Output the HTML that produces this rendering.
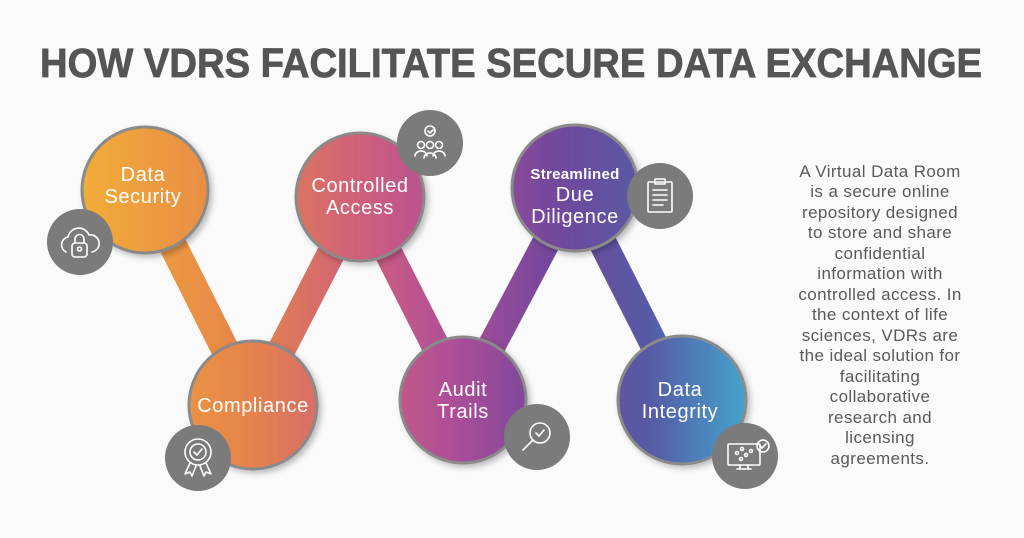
<!DOCTYPE html>
<html><head><meta charset="utf-8"><style>
html,body{margin:0;padding:0;background:#fafafa;}
svg{display:block;font-family:"Liberation Sans",sans-serif;}
</style></head><body>
<svg width="1024" height="538" viewBox="0 0 1024 538" xmlns="http://www.w3.org/2000/svg">
<defs>
<linearGradient id="g" gradientUnits="userSpaceOnUse" x1="80" y1="0" x2="750" y2="0">
<stop offset="0" stop-color="#f2ad38"/>
<stop offset="0.25" stop-color="#e5844a"/>
<stop offset="0.42" stop-color="#cf5f7c"/>
<stop offset="0.55" stop-color="#b04f97"/>
<stop offset="0.7" stop-color="#74479c"/>
<stop offset="0.85" stop-color="#565aa5"/>
<stop offset="1" stop-color="#45a6cf"/>
</linearGradient>
<filter id="sh" x="-20%" y="-20%" width="140%" height="140%"><feDropShadow dx="3" dy="3" stdDeviation="3" flood-color="#000" flood-opacity="0.25"/></filter>
</defs>
<rect width="1024" height="538" fill="#fafafa"/>
<text x="511" y="77" text-anchor="middle" font-size="41" font-weight="bold" fill="#555" stroke="#555" stroke-width="0.8" textLength="942" lengthAdjust="spacingAndGlyphs">HOW VDRS FACILITATE SECURE DATA EXCHANGE</text>
<g stroke="url(#g)" stroke-width="28" stroke-linecap="round" fill="none">
<polyline points="145,190 253,405 360,197 463,400 575,188 682,400" stroke-linejoin="round"/>
</g>
<g fill="url(#g)" stroke="#8a8a8a" stroke-width="3" filter="url(#sh)">
<circle cx="145" cy="190" r="63"/>
<circle cx="360" cy="197" r="64"/>
<circle cx="575" cy="188" r="63"/>
<circle cx="253" cy="405" r="64"/>
<circle cx="463" cy="400" r="63"/>
<circle cx="682" cy="400" r="64"/>
</g>
<g fill="#fff" font-size="20" letter-spacing="0.6" text-anchor="middle">
<text x="143" y="181">Data</text><text x="143" y="203">Security</text>
<text x="360" y="192">Controlled</text><text x="360" y="214">Access</text>
<text x="575" y="179" font-size="15" font-weight="bold" letter-spacing="0.3">Streamlined</text><text x="575" y="201">Due</text><text x="575" y="223">Diligence</text>
<text x="253" y="412">Compliance</text>
<text x="463" y="396">Audit</text><text x="463" y="418">Trails</text>
<text x="680" y="396">Data</text><text x="680" y="418">Integrity</text>
</g>
<g fill="#7b7b7b">
<circle cx="80" cy="242" r="33"/><circle cx="198" cy="458" r="33"/>
<circle cx="430" cy="143" r="33"/><circle cx="660" cy="196" r="33"/>
<circle cx="537" cy="437" r="33"/><circle cx="745" cy="456" r="33"/>
</g>
<g fill="none" stroke="#fff" stroke-width="1.6" stroke-linecap="round" stroke-linejoin="round">
<path d="M66 252 a8 8 0 0 1 2-15 a11 11 0 0 1 21-2 a8 8 0 0 1 3 17"/>
<rect x="72" y="243" width="15" height="14" rx="3"/><path d="M75 243 v-4 a4.5 4.5 0 0 1 9 0 v4"/><circle cx="79.5" cy="249" r="2"/>
<circle cx="198" cy="452" r="13"/><circle cx="198" cy="452" r="8"/><path d="M194 452 l3 3 l5-6"/><path d="M190 463 l-5 11 l5-2 l2 4 l4-10 M206 463 l5 11 l-5-2 l-2 4 l-4-10"/>
<circle cx="430" cy="131" r="5"/><path d="M428 131 l2 2 l3-3"/>
<circle cx="421" cy="145" r="3.5"/><circle cx="430" cy="145" r="3.5"/><circle cx="439" cy="145" r="3.5"/>
<path d="M415 156 a6 5 0 0 1 12 0 M424 158 a6 5 0 0 1 12 0 M433 156 a6 5 0 0 1 12 0"/>
<rect x="648" y="182" width="24" height="30" rx="1"/><rect x="655" y="179" width="10" height="5"/>
<path d="M653 190 h14 M653 195 h14 M653 200 h14 M653 205 h10"/>
<circle cx="540" cy="433" r="10"/><path d="M536 433 l3 3 l5-6 M533 440 l-10 10"/>
<rect x="728" y="444" width="32" height="21" rx="1"/><path d="M740 465 v4 h8 v-4 M737 469 h14"/>
<circle cx="763" cy="446" r="6"/><path d="M760 446 l2 2 l4-4"/>
<circle cx="737" cy="453" r="1.5"/><circle cx="742" cy="449" r="1.5"/><circle cx="746" cy="455" r="1.5"/><circle cx="741" cy="459" r="1.5"/><circle cx="751" cy="451" r="1.5"/>
</g>
<g fill="#5a5a5a" font-size="17" letter-spacing="0.4" text-anchor="middle">
<text x="880" y="177">A Virtual Data Room</text>
<text x="880" y="197">is a secure online</text>
<text x="880" y="218">repository designed</text>
<text x="880" y="238">to store and share</text>
<text x="880" y="259">confidential</text>
<text x="880" y="279">information with</text>
<text x="880" y="300">controlled access. In</text>
<text x="880" y="320">the context of life</text>
<text x="880" y="341">sciences, VDRs are</text>
<text x="880" y="361">the ideal solution for</text>
<text x="880" y="382">facilitating</text>
<text x="880" y="402">collaborative</text>
<text x="880" y="423">research and</text>
<text x="880" y="443">licensing</text>
<text x="880" y="464">agreements.</text>
</g>
</svg>
</body></html>
